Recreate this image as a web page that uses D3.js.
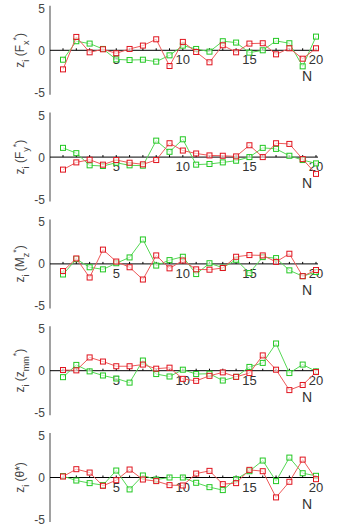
<!DOCTYPE html>
<html><head><meta charset="utf-8">
<script src="https://cdn.jsdelivr.net/npm/d3@7"></script>
<style>body{margin:0;background:#fff}svg{display:block}text{font-family:"Liberation Sans",Arial,sans-serif}</style>
</head><body><div id="c"></div>
<script>
const N = d3.range(1, 21);
const xTicks = [5, 10, 15, 20];
const yTicks = [5, 0, -5];
const panelNames = ["Fx", "Fy", "Mz", "zmm", "theta"];
// red series per panel
const redFx    = [-2.27,1.59,-0.24,0.12,-0.36,0.16,0.56,1.31,-1.87,1.0,-0.2,-1.43,0.6,-0.24,0.8,0.84,-0.48,0.24,-1.0,0.24];
const greenFx  = [-1.12,1.08,0.8,0.16,-1.08,-1.16,-1.12,-1.35,-0.6,0.56,0.16,-0.16,1.08,0.92,-0.28,0,1.12,0.84,-1.91,1.63];
const redFy    = [-1.49,-0.63,-0.31,-0.9,-0.35,-0.67,-0.86,-0.35,1.65,0.78,0.43,0.2,0.16,0.08,1.41,0,1.65,1.57,-0.24,-2.0];
const greenFy  = [1.1,0.47,-0.98,-1.06,-0.67,-0.98,-1.02,1.96,0.63,2.12,-0.9,-0.82,-0.63,-0.43,0,1.1,0.98,0.16,-0.35,-0.75];
const redMz    = [-0.85,0.65,-1.62,1.7,0.28,-0.4,-1.86,1.01,-0.53,0.4,-0.65,-0.69,-0.49,0.85,1.05,1.01,0.24,1.21,-1.46,-0.73];
const greenMz  = [-1.26,0.57,-0.4,-0.65,0.08,0.77,2.91,-0.2,0.45,0.85,-1.21,0.08,-0.45,0.49,-1.09,0.81,0.69,-0.77,-1.46,-0.97];
const redZmm   = [0.08,0.04,1.58,1.09,0.53,0.53,0.73,0.24,0.36,-0.97,-1.21,-0.61,-0.2,-0.73,-0.28,1.82,0.12,-2.31,-1.7,-0.16];
const greenZmm = [-0.77,0.69,-0.08,-0.57,-0.93,-1.42,1.21,-0.4,-0.69,0.12,-0.4,-0.36,-1.17,-0.73,0.45,0.93,3.24,-0.28,0.73,-0.08];
const redTh    = [0.12,0.99,0.59,-0.99,-0.32,0.95,-0.24,-0.43,-0.91,-0.95,0.47,0.79,-0.79,-0.67,0.91,0.75,-2.37,-0.51,2.13,-0.2];
const greenTh  = [0.16,-0.36,-0.67,-0.91,0.83,-1.42,0.24,-0.24,0,0,-0.63,-1.15,-1.5,-0.2,0.75,2.02,-0.43,2.37,0.51,0.2];

const reds = [redFx, redFy, redMz, redZmm, redTh];
const greens = [greenFx, greenFy, greenMz, greenZmm, greenTh];
// label pieces: [text, shift]
const labels = [
  [["z",0],["i","sub"],[" (F",0],["x","sub"],["*","super"],[")",0]],
  [["z",0],["i","sub"],[" (F",0],["y","sub"],["*","super"],[")",0]],
  [["z",0],["i","sub"],[" (M",0],["z","sub"],["*","super"],[")",0]],
  [["z",0],["i","sub"],[" (z",0],["mm","sub"],["*","super"],[")",0]],
  [["z",0],["i","sub"],[" (θ*)",0]]
];

const W = 350, H = 531;
const svg = d3.select("#c").append("svg").attr("width", W).attr("height", H);
const x = d3.scaleLinear().domain([1, 20]).range([63, 316]);
const RED_M = "#e0141e", RED_L = "#ee5a5a", GRN_M = "#22c822", GRN_L = "#55d855";

panelNames.forEach((name, k) => {
  const zero = 50.3 + 106.8 * k;
  const y = d3.scaleLinear().domain([-5, 5]).range([zero + 42, zero - 42]);
  const g = svg.append("g");
  // y axis line
  g.append("line").attr("x1", 50).attr("x2", 50).attr("y1", y(5.3)).attr("y2", y(-5.3))
    .attr("stroke", "#8a8a8a").attr("stroke-width", 1.6);
  // y tick labels
  g.selectAll(".yt").data(yTicks).join("text")
    .attr("x", 45).attr("y", d => y(d) + 4.5).attr("text-anchor", "end")
    .attr("font-size", 12).attr("fill", "#444").text(d => d);
  // x axis at zero
  g.append("line").attr("x1", 50).attr("x2", 318).attr("y1", y(0)).attr("y2", y(0))
    .attr("stroke", "#000").attr("stroke-width", 1);
  g.selectAll(".xtk").data(N).join("line")
    .attr("x1", d => x(d)).attr("x2", d => x(d)).attr("y1", y(0)).attr("y2", y(0) - 2)
    .attr("stroke", "#000").attr("stroke-width", 1);
  g.selectAll(".xt").data(xTicks).join("text")
    .attr("x", d => x(d)).attr("y", y(0) + 14).attr("text-anchor", "middle")
    .attr("font-size", 13).attr("fill", "#333").text(d => d);
  g.append("text").attr("x", 307).attr("y", y(0) + 31).attr("text-anchor", "middle")
    .attr("font-size", 14).attr("fill", "#333").text("N");
  // y label
  const t = g.append("text").attr("transform", `translate(24,${zero}) rotate(-90)`)
    .attr("text-anchor", "middle").attr("font-size", 12).attr("fill", "#444");
  labels[k].forEach(([s, sh]) => {
    const ts = t.append("tspan").text(s);
    if (sh === "sub") ts.attr("baseline-shift", "sub").attr("font-size", 9);
    if (sh === "super") ts.attr("baseline-shift", "super").attr("font-size", 9);
  });
  // series
  const line = d3.line().x((d, i) => x(N[i])).y(d => y(d));
  [[greens[k], GRN_L, GRN_M], [reds[k], RED_L, RED_M]].forEach(([vals, lc, mc]) => {
    g.append("path").attr("d", line(vals)).attr("fill", "none").attr("stroke", lc).attr("stroke-width", 1);
    g.selectAll(null).data(vals).join("rect")
      .attr("x", (d, i) => x(N[i]) - 2.5).attr("y", d => y(d) - 2.5)
      .attr("width", 5).attr("height", 5).attr("fill", "#fff").attr("fill-opacity", 0.6)
      .attr("stroke", mc).attr("stroke-width", 1);
  });
});
</script></body></html>
